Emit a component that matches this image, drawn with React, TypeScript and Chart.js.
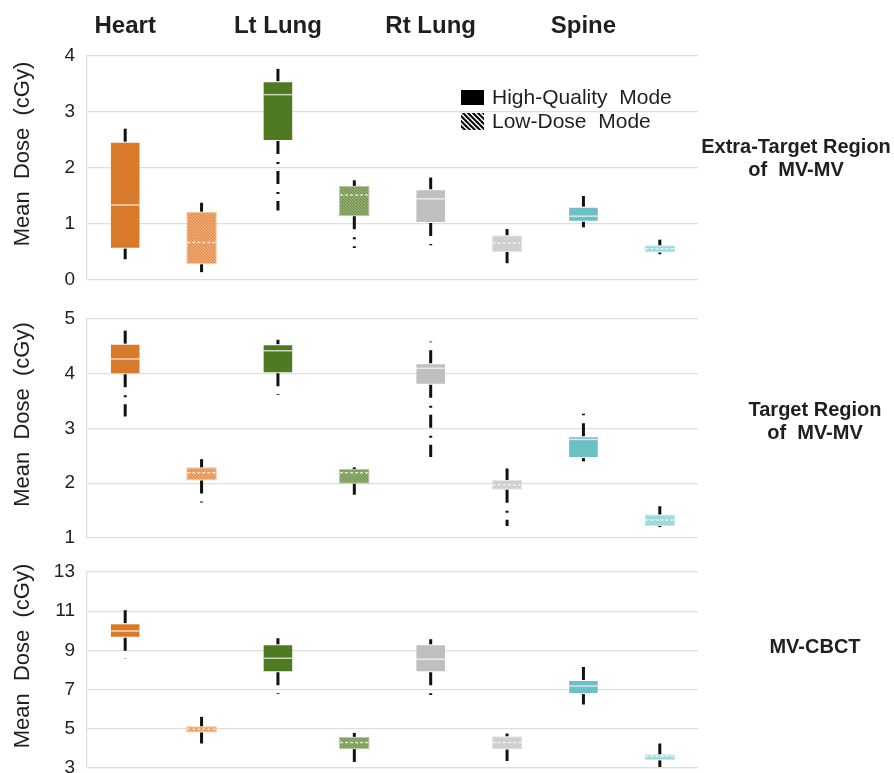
import React, { useEffect, useRef } from 'react';
import { Chart, registerables } from 'chart.js';
Chart.register(...registerables);

// ---------- data ----------
const boxLabels = ['Heart HQ', 'Heart LD', 'Lt Lung HQ', 'Lt Lung LD', 'Rt Lung HQ', 'Rt Lung LD', 'Spine HQ', 'Spine LD'];
const organLabels = ['Heart', '', 'Lt Lung', '', 'Rt Lung', '', 'Spine', ''];
const modeLabels = ['High-Quality  Mode', 'Low-Dose  Mode'];
const yTitle = 'Mean  Dose  (cGy)';

// Extra-Target Region of MV-MV
const extraMin = [0.37, 0.14, 1.24, 0.57, 0.62, 0.30, 0.94, 0.46];
const extraQ1 = [0.56, 0.28, 2.48, 1.14, 1.02, 0.50, 1.04, 0.49];
const extraMed = [1.34, 0.67, 3.31, 1.52, 1.45, 0.66, 1.14, 0.56];
const extraQ3 = [2.47, 1.22, 3.55, 1.68, 1.62, 0.80, 1.31, 0.62];
const extraMax = [2.76, 1.38, 3.77, 1.78, 1.83, 0.91, 1.50, 0.72];

// Target Region of MV-MV
const targetMin = [3.22, 1.65, 3.61, 1.79, 2.48, 1.22, 2.40, 1.20];
const targetQ1 = [3.99, 2.05, 4.01, 1.99, 3.80, 1.88, 2.46, 1.22];
const targetMed = [4.27, 2.19, 4.42, 2.19, 4.10, 1.97, 2.80, 1.33];
const targetQ3 = [4.55, 2.29, 4.54, 2.26, 4.19, 2.06, 2.86, 1.43];
const targetMax = [4.89, 2.44, 4.62, 2.29, 4.59, 2.27, 3.27, 1.58];

// MV-CBCT
const cbctMin = [8.56, 4.25, 6.77, 3.31, 6.72, 3.36, 6.24, 3.05];
const cbctQ1 = [9.65, 4.81, 7.88, 3.96, 7.88, 3.94, 6.77, 3.39];
const cbctMed = [9.99, 4.98, 8.60, 4.30, 8.55, 4.30, 7.18, 3.60];
const cbctQ3 = [10.39, 5.13, 9.31, 4.59, 9.31, 4.62, 7.49, 3.70];
const cbctMax = [11.27, 5.61, 9.62, 4.79, 9.57, 4.76, 8.39, 4.25];

// ---------- styles ----------
const solidColors = ['#D97A2B', '#4F7A22', '#BFBFBF', '#6CBFC3'];
const hatchBg = ['#F4C7A2', '#B4C99A', '#E6E6E6', '#C6EAEB'];
const hatchFg = ['#E2863F', '#6A8C42', '#C2C2C2', '#86CFD2'];
const FONT = '"Liberation Sans", Arial, sans-serif';
const TEXT = '#1f1f1f';

function makeHatch(ctx: CanvasRenderingContext2D, bg: string, fg: string, size = 3, lw = 1.3) {
  const c = document.createElement('canvas');
  c.width = size; c.height = size;
  const x = c.getContext('2d')!;
  x.fillStyle = bg;
  x.fillRect(0, 0, size, size);
  x.strokeStyle = fg;
  x.lineWidth = lw;
  x.beginPath();
  x.moveTo(-1, -1); x.lineTo(size + 1, size + 1);
  x.moveTo(-1, size - 1); x.lineTo(1, size + 1);
  x.moveTo(size - 1, -1); x.lineTo(size + 1, 1);
  x.stroke();
  return ctx.createPattern(c, 'repeat')!;
}

const boxExtras = {
  id: 'boxExtras',
  afterDatasetsDraw(chart: any, _args: any, opts: any) {
    const { ctx } = chart;
    const y = chart.scales.y;
    const meta = chart.getDatasetMeta(0);
    meta.data.forEach((el: any, i: number) => {
      const { x, width } = el.getProps(['x', 'width'], true);
      const yQ1 = y.getPixelForValue(opts.q1[i]);
      const yQ3 = y.getPixelForValue(opts.q3[i]);
      const yMed = y.getPixelForValue(opts.med[i]);
      const yMin = y.getPixelForValue(opts.min[i]);
      const yMax = y.getPixelForValue(opts.max[i]);
      ctx.save();
      // median
      ctx.strokeStyle = 'rgba(255,255,255,0.7)';
      ctx.lineWidth = 1.5;
      ctx.setLineDash(i % 2 === 1 ? [3, 2] : []);
      ctx.beginPath();
      ctx.moveTo(x - width / 2 + 1, yMed);
      ctx.lineTo(x + width / 2 - 1, yMed);
      ctx.stroke();
      // whiskers
      ctx.strokeStyle = '#111';
      ctx.lineWidth = 3;
      ctx.lineCap = 'butt';
      ctx.setLineDash([13, 8, 2, 7]);
      ctx.beginPath();
      ctx.moveTo(x, yQ3);
      ctx.lineTo(x, yMax);
      ctx.stroke();
      ctx.beginPath();
      ctx.moveTo(x, yQ1);
      ctx.lineTo(x, yMin);
      ctx.stroke();
      ctx.restore();
    });
  },
};

const decorations = {
  id: 'decorations',
  afterDraw(chart: any, _args: any, opts: any) {
    const { ctx, chartArea } = chart;
    ctx.save();
    // y title
    ctx.fillStyle = TEXT;
    ctx.font = `22px ${FONT}`;
    ctx.textAlign = 'center';
    ctx.textBaseline = 'middle';
    ctx.translate(23, (chartArea.top + chartArea.bottom) / 2 - 14);
    ctx.rotate(-Math.PI / 2);
    ctx.fillText(yTitle, 0, 0);
    ctx.restore();

    // side label
    ctx.save();
    ctx.fillStyle = TEXT;
    ctx.font = `bold 20px ${FONT}`;
    ctx.textAlign = 'center';
    ctx.textBaseline = 'middle';
    opts.side.forEach((line: string, k: number) => {
      ctx.fillText(line, chartArea.right + opts.sideDx, chartArea.top + opts.sideDy + k * 23);
    });
    ctx.restore();

    if (opts.legend) {
      ctx.save();
      const lx = chartArea.left + 374;
      const ly = chartArea.top + 34;
      ctx.fillStyle = '#000';
      ctx.fillRect(lx, ly, 23, 15);
      ctx.fillStyle = makeHatch(ctx, '#ffffff', '#000000', 5, 2);
      ctx.fillRect(lx, ly + 23, 23, 17);
      ctx.fillStyle = TEXT;
      ctx.font = `21px ${FONT}`;
      ctx.textAlign = 'left';
      ctx.textBaseline = 'middle';
      ctx.fillText(modeLabels[0], lx + 31, ly + 8);
      ctx.fillText(modeLabels[1], lx + 31, ly + 32);
      ctx.restore();
    }
  },
};

type Spec = {
  top: number; height: number; areaTop: number; bottomH: number;
  min: number; max: number; step: number;
  mins: number[]; q1: number[]; med: number[]; q3: number[]; maxs: number[];
  side: string[]; sideDx: number; sideDy: number; showTop: boolean; legend: boolean;
};

const specs: Spec[] = [
  {
    top: 0, height: 300, areaTop: 56, bottomH: 20, min: 0, max: 4, step: 1,
    mins: extraMin, q1: extraQ1, med: extraMed, q3: extraQ3, maxs: extraMax,
    side: ['Extra-Target Region', 'of  MV-MV'], sideDx: 98, sideDy: 91, showTop: true, legend: true,
  },
  {
    top: 295, height: 255, areaTop: 24, bottomH: 12, min: 1, max: 5, step: 1,
    mins: targetMin, q1: targetQ1, med: targetMed, q3: targetQ3, maxs: targetMax,
    side: ['Target Region', 'of  MV-MV'], sideDx: 117, sideDy: 91, showTop: false, legend: false,
  },
  {
    top: 548, height: 225, areaTop: 24, bottomH: 5, min: 3, max: 13, step: 2,
    mins: cbctMin, q1: cbctQ1, med: cbctMed, q3: cbctQ3, maxs: cbctMax,
    side: ['MV-CBCT'], sideDx: 117, sideDy: 75, showTop: false, legend: false,
  },
];

function Panel({ spec }: { spec: Spec }) {
  const ref = useRef<HTMLCanvasElement>(null);
  useEffect(() => {
    const canvas = ref.current!;
    const ctx = canvas.getContext('2d')!;
    const fills = boxLabels.map((_, i) => {
      const k = Math.floor(i / 2);
      return i % 2 === 0 ? solidColors[k] : makeHatch(ctx, hatchBg[k], hatchFg[k]);
    });
    const borders = boxLabels.map((_, i) => {
      const k = Math.floor(i / 2);
      return i % 2 === 0 ? 'rgba(255,255,255,0.35)' : hatchBg[k];
    });
    const chart = new Chart(ctx, {
      type: 'bar',
      data: {
        labels: boxLabels,
        datasets: [
          {
            data: spec.q1.map((v, i) => [v, spec.q3[i]]) as any,
            backgroundColor: fills as any,
            borderColor: borders,
            borderWidth: 1,
            borderSkipped: false,
            barPercentage: 0.4,
            categoryPercentage: 1,
            xAxisID: 'x',
            yAxisID: 'y',
          },
        ],
      },
      options: {
        responsive: false,
        animation: false,
        events: [],
        layout: { padding: { left: 0, right: 196, top: 0, bottom: 0 } },
        plugins: {
          legend: { display: false },
          tooltip: { enabled: false },
          boxExtras: { min: spec.mins, q1: spec.q1, med: spec.med, q3: spec.q3, max: spec.maxs },
          decorations: { side: spec.side, sideDx: spec.sideDx, sideDy: spec.sideDy, legend: spec.legend },
        } as any,
        scales: {
          x: {
            type: 'category',
            position: 'bottom',
            grid: { display: false, drawTicks: false },
            border: { display: false },
            ticks: { display: false },
            afterFit: (s: any) => { s.height = spec.bottomH; s.paddingLeft = 0; s.paddingRight = 0; },
          },
          xTop: {
            type: 'category',
            position: 'top',
            labels: organLabels,
            offset: true,
            grid: { display: false, drawTicks: false },
            border: { display: false },
            ticks: {
              display: spec.showTop,
              autoSkip: false,
              maxRotation: 0,
              padding: 15,
              color: TEXT,
              font: { family: FONT, size: 24, weight: 'bold' },
            },
            afterFit: (s: any) => { s.height = spec.areaTop; s.paddingLeft = 0; s.paddingRight = 0; },
          },
          y: {
            type: 'linear',
            min: spec.min,
            max: spec.max,
            grid: { color: '#DEDEDE', lineWidth: 1.3, drawTicks: false },
            border: { display: true, color: '#DEDEDE', width: 1.3 },
            ticks: {
              stepSize: spec.step,
              padding: 12,
              color: TEXT,
              font: { family: FONT, size: 19 },
            },
            afterFit: (s: any) => { s.width = 87; s.paddingTop = 0; s.paddingBottom = 0; },
          },
        } as any,
      },
      plugins: [boxExtras, decorations],
    });
    return () => chart.destroy();
  }, []);
  return (
    <canvas
      ref={ref}
      width={894}
      height={spec.height}
      style={{ position: 'absolute', left: 0, top: spec.top, width: 894, height: spec.height, display: 'block' }}
    />
  );
}

export default function App() {
  return (
    <div style={{ position: 'absolute', left: 0, top: 0, width: 894, height: 773, background: '#fff', overflow: 'hidden' }}>
      {specs.map((s, i) => (
        <Panel key={i} spec={s} />
      ))}
    </div>
  );
}
